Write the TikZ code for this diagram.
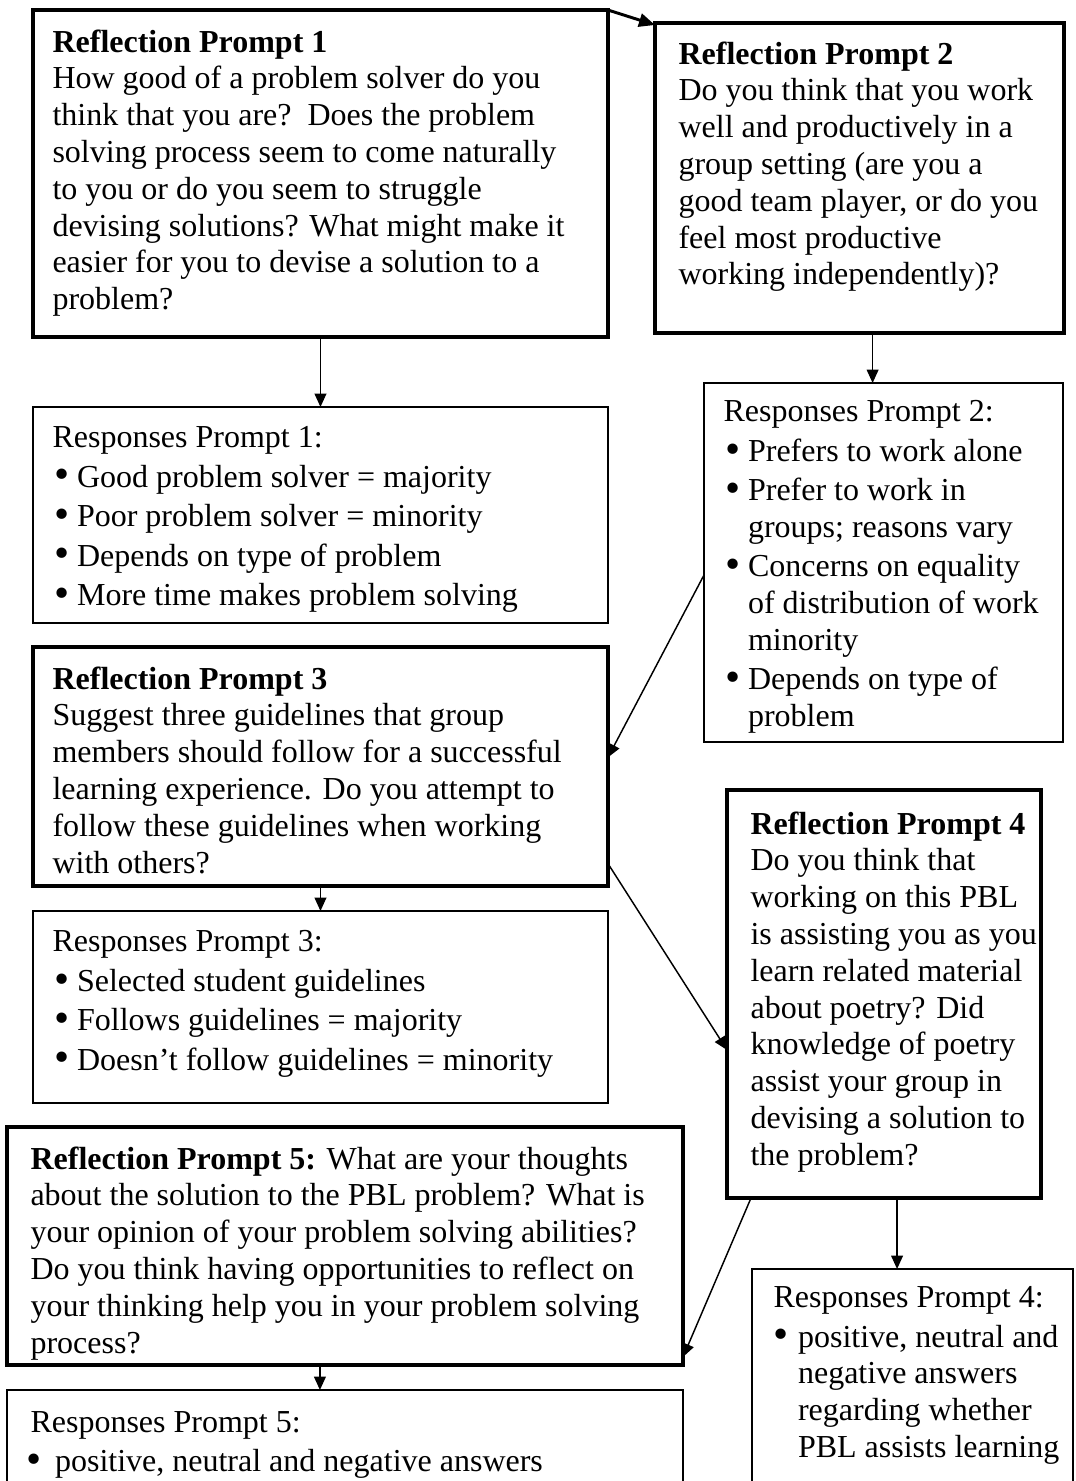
\documentclass[tikz,border=0pt]{standalone}
\usepackage{fontspec}
\setmainfont{Liberation Serif}
\usetikzlibrary{arrows.meta}
\usetikzlibrary{calc}

% 项目符号 (可选参数: 圆点中心的缩进)
\newcommand{\itm}[1][3.7pt]{\hspace*{#1}\makebox[0pt][c]{\raisebox{-0.7pt}{\scalebox{1.35}{\textbullet}}}\hspace*{\dimexpr 9.2pt-#1\relax}\ignorespaces}

\begin{document}
\begin{tikzpicture}[x=0.375pt, y=-0.375pt]
        % ================= 样式定义 =================
        \tikzset{
            % 提示框:粗黑边
            promptbox/.style={draw=black, line width=1.5pt, anchor=north west, inner sep=0pt, outer sep=0pt},
            % 回答框:细黑边
            respbox/.style={draw=black, line width=0.75pt, anchor=north west, inner sep=0pt, outer sep=0pt},
            % 框内文字
            boxtext/.style={anchor=north west, inner sep=0pt, align=left, font=\fontsize{12}{13.8}\selectfont},
            % 普通箭头
            arrow/.style={line width=0.55pt, -{Triangle[length=5pt, width=4.4pt]}},
            % 顶部粗箭头
            bigarrow/.style={line width=1.1pt, -{Triangle[length=6pt, width=5pt]}}
        }

        \useasboundingbox (0,0) rectangle (1076,1481);
        \clip (0,0) rectangle (1076,1481);

        % ================= 左列:提示 1, 3 与回答 =================
        \node[promptbox, minimum width=215.6pt, minimum height=122.6pt] (rp1) at (33,10) {};
        \node[boxtext] (rp1t) at ([shift={(19,19)}]rp1.north west) {\textbf{Reflection Prompt 1}\\
            How good of a problem solver do you\\
            think that you are?\ \ Does the problem\\
            solving process seem to come naturally\\
            to you or do you seem to struggle\\
            devising solutions? What might make it\\
            easier for you to devise a solution to a\\
            problem?};

        \node[respbox, minimum width=215.6pt, minimum height=81pt] (r1) at (33,407) {};
        \node[boxtext] (r1t) at ([shift={(19,19)}]r1.north west) {Responses Prompt 1:\\[1pt]
            \itm Good problem solver = majority\\[1pt]
            \itm Poor problem solver = minority\\[1pt]
            \itm Depends on type of problem\\[1pt]
            \itm More time makes problem solving};

        \node[promptbox, minimum width=215.6pt, minimum height=89.6pt] (rp3) at (33,647) {};
        \node[boxtext] (rp3t) at ([shift={(19,19)}]rp3.north west) {\textbf{Reflection Prompt 3}\\
            Suggest three guidelines that group\\
            members should follow for a successful\\
            learning experience. Do you attempt to\\
            follow these guidelines when working\\
            with others?};

        \node[respbox, minimum width=215.6pt, minimum height=72pt] (r3) at (33,911) {};
        \node[boxtext] (r3t) at ([shift={(19,19)}]r3.north west) {Responses Prompt 3:\\[1pt]
            \itm Selected student guidelines\\[1pt]
            \itm Follows guidelines = majority\\[1pt]
            \itm Doesn’t follow guidelines = minority};

        % ================= 右列:提示 2, 4 与回答 =================
        \node[promptbox, minimum width=153.4pt, minimum height=116.25pt] (rp2) at (655,23) {};
        \node[boxtext] (rp2t) at ([shift={(23,18)}]rp2.north west) {\textbf{Reflection Prompt 2}\\
            Do you think that you work\\
            well and productively in a\\
            group setting (are you a\\
            good team player, or do you\\
            feel most productive\\
            working independently)?};

        \node[respbox, minimum width=134.6pt, minimum height=134.6pt] (r2) at (704,383) {};
        \node[boxtext] (r2t) at ([shift={(19,17)}]r2.north west) {Responses Prompt 2:\\[1pt]
            \itm Prefers to work alone\\[1pt]
            \itm Prefer to work in\\
            \hspace*{9.2pt}groups; reasons vary\\[1pt]
            \itm Concerns on equality\\
            \hspace*{9.2pt}of distribution of work\\
            \hspace*{9.2pt}minority\\[1pt]
            \itm Depends on type of\\
            \hspace*{9.2pt}problem};

        \node[promptbox, minimum width=117.75pt, minimum height=153pt] (rp4) at (727,790) {};
        \node[boxtext] (rp4t) at ([shift={(23,21)}]rp4.north west) {\textbf{Reflection Prompt 4}\\
            Do you think that\\
            working on this PBL\\
            is assisting you as you\\
            learn related material\\
            about poetry? Did\\
            knowledge of poetry\\
            assist your group in\\
            devising a solution to\\
            the problem?};

        \node[respbox, minimum width=120.4pt, minimum height=112.5pt] (r4) at (752,1269) {};
        \node[boxtext] (r4t) at ([shift={(21,17)}]r4.north west) {Responses Prompt 4:\\[1pt]
            \itm[3pt] positive, neutral and\\
            \hspace*{9.2pt}negative answers\\
            \hspace*{9.2pt}regarding whether\\
            \hspace*{9.2pt}PBL assists learning};

        % ================= 底部:提示 5 与回答 =================
        \node[promptbox, minimum width=253.5pt, minimum height=89.25pt] (rp5) at (7,1127) {};
        \node[boxtext] (rp5t) at ([shift={(23,19)}]rp5.north west) {\textbf{Reflection Prompt 5:} What are your thoughts\\
            about the solution to the PBL problem? What is\\
            your opinion of your problem solving abilities?\\
            Do you think having opportunities to reflect on\\
            your thinking help you in your problem solving\\
            process?};

        \node[respbox, minimum width=253.5pt, minimum height=75pt] (r5) at (7,1390) {};
        \node[boxtext] (r5t) at ([shift={(23,21)}]r5.north west) {Responses Prompt 5:\\[1pt]
            \itm[1.5pt] positive, neutral and negative answers};

        % ================= 箭头 =================
        \draw[bigarrow] (rp1.north east) -- ([yshift=-0.75pt]rp2.north west);
        \draw[arrow] (rp1.south) -- (rp1.south |- r1.north);
        \draw[arrow] ([xshift=4.9pt]rp2.south) -- ([xshift=4.9pt]rp2.south |- r2.north);
        \draw[arrow] ([yshift=-4.7pt]r2.west) -- ([yshift=3.4pt]rp3.east);
        \draw[arrow] (rp3.south) -- (rp3.south |- r3.north);
        \draw[arrow] ([yshift=-36.4pt]rp3.east) -- ([yshift=-21pt]rp4.west);
        \draw[arrow] ([xshift=4.9pt]rp4.south) -- ([xshift=4.9pt]rp4.south |- r4.north);
        \draw[arrow] ([xshift=9pt]rp4.south west) -- ([yshift=3pt]rp5.south east);
        \draw[arrow] ([xshift=-9.4pt]rp5.south) -- ([xshift=-9.4pt]rp5.south |- r5.north);

\end{tikzpicture}
\end{document}
